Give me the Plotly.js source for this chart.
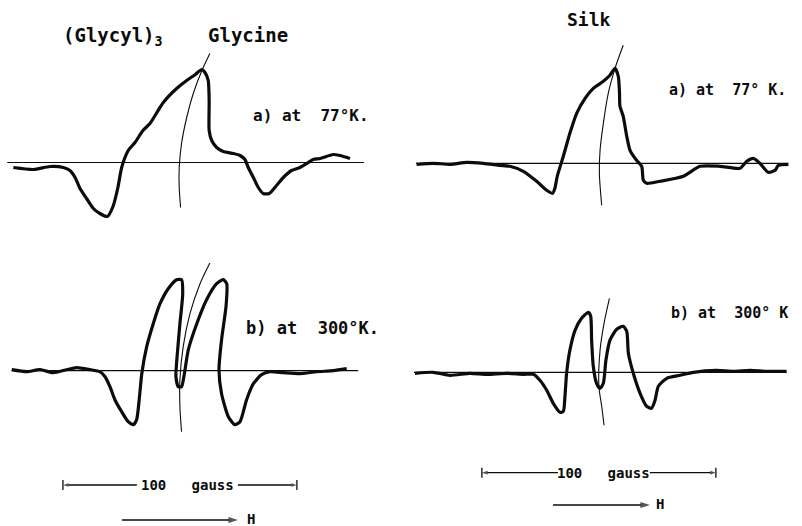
<!DOCTYPE html>
<html><head><meta charset="utf-8">
<script src="https://cdn.plot.ly/plotly-3.0.1.min.js"></script>
<style>html,body{margin:0;padding:0;background:#fff}#c{width:802px;height:526px}</style>
</head><body><div id="c"></div>
<script>
// x in gauss (field offset within each panel), y in arbitrary derivative-signal units (0 = baseline)
// (a) Glycyl-glycyl-glycine, 77 K
const ltX = [5.7,14.2,21.4,27.1,29.9,32.1,34.2,37.0,39.9,42.7,45.9,48.3,50.4,52.0,54.8,57.7,61.1,64.1,69.8,75.5,79.8,83.5,86.2,87.6,89.0,89.4,89.4,90.5,92.6,95.4,99.7,102.6,104.7,106.1,108.3,110.4,112.5,115.1,118.2,121.1,124.6,128.2,131.1,133.9,136.8,142.4,145.3,149.6];
const ltY = [-5,-7,-4,-5,-8,-15,-26,-36,-46,-51,-54,-44,-25,-5,12,20,32,39,60,74,82,88,93,90,82,62,32,22,15,11,9,7,3,-5,-15,-25,-31,-31,-23,-15,-8,-5,-1,3,4,8,7,4];
const ltMarkX = [89.7,86.3,82.6,79.8,77.6,76.6,76.6,77.2];
const ltMarkY = [109,92,69,45,19,-5,-25,-45];
const ltBaseX = [3.1,155.6];
// (a) Silk, 77 K
const rtX = [7.1,14.2,21.4,28.5,35.6,42.7,47.0,52.7,58.4,62.7,65.2,66.2,67.2,69.8,72.6,75.5,79.1,82.6,86.9,89.7,91.9,93.3,93.8,94.0,95.4,96.9,98.3,101.1,103.3,104.0,105.4,111.1,121.1,128.2,136.8,145.3,148.2,151.0,153.8,157.4,160.3,161.7,166.0];
const rtY = [-1,0,-1,1,0,-2,-3,-8,-18,-27,-30,-25,-13,7,30,50,65,75,82,88,95,87,71,57,47,27,13,3,-3,-17,-20,-18,-13,-3,-3,-5,2,5,0,-9,-7,-2,-1];
const rtMarkX = [95.4,91.9,89.0,86.9,85.5,85.2,86.2];
const rtMarkY = [118,95,70,40,13,-10,-42];
const rtBaseX = [6.8,165.8];
// (b) Glycyl-glycyl-glycine, 300 K
const lbX = [5.0,11.4,17.1,22.8,28.5,32.8,38.5,42.7,44.9,47.0,49.1,52.0,54.8,57.0,58.4,59.5,60.6,62.7,65.5,68.4,71.9,75.5,77.6,78.1,76.9,75.8,75.2,76.2,77.6,78.8,80.5,84.1,88.3,92.6,95.4,96.9,96.6,94.7,93.6,94.7,97.6,100.4,102.6,105.4,108.3,111.8,115.4,121.1,128.2,135.3,142.5,148.2];
const lbY = [1,-1,1,-2,1,3,1,-1,-6,-16,-29,-41,-51,-54,-49,-29,-3,24,47,67,82,91,91,77,47,17,-6,-16,-16,-3,21,47,71,87,91,87,64,31,1,-23,-46,-54,-51,-29,-13,-4,-1,-2,-3,-1,0,2];
const lbMarkX = [90.2,85.5,81.2,78.3,76.9,76.9,77.6];
const lbMarkY = [110,87,57,24,-9,-36,-61];
const lbBaseX = [5.0,153.1];
// (b) Silk, 300 K
const rbX = [6.4,14.2,21.4,29.9,37.0,45.6,52.7,57.0,59.8,62.7,65.5,68.4,69.8,70.5,71.2,72.6,74.8,77.6,80.5,81.5,81.9,82.6,84.0,85.5,86.9,88.0,89.7,92.6,95.4,96.9,97.6,99.7,102.6,105.4,107.5,109.0,110.4,114.0,119.7,125.4,135.3,142.5,149.6,156.7,165.2];
const rbY = [-1,0,-3,-1,-2,-1,-2,-2,-8,-18,-31,-40,-39,-24,-1,22,42,54,60,56,32,6,-11,-16,-11,12,32,43,46,41,19,-1,-21,-34,-36,-28,-14,-6,-3,0,2,1,2,1,1];
const rbMarkX = [89.5,87.2,85.5,85.0,86.2,87.2];
const rbMarkY = [74,49,22,-14,-34,-53];
const rbBaseX = [6.0,165.2];

const scaleGauss = 100;          // length of the field scale bar
const scaleLabel = '100\u00a0\u00a0\u00a0gauss';
const fieldLabel = 'H';
const titles = ['(Glycyl)<sub>3</sub>', 'Glycine', 'Silk'];
const tempLabels = ['a)\u00a0at\u00a0\u00a077°K.', 'a)\u00a0at\u00a0\u00a077°\u00a0K.', 'b)\u00a0at\u00a0\u00a0300°K.', 'b)\u00a0at\u00a0\u00a0300°\u00a0K'];

const INK = '#0c0c0c';
const thick = {color: INK, width: 3.2, shape: 'spline', smoothing: 0.6};
const thin = {color: INK, width: 1.1, shape: 'spline', smoothing: 0.8};
const base = {color: INK, width: 1.2};

function panel(xs, ys, mx, my, bx, ax) {
  const xa = 'x' + (ax === 1 ? '' : ax), ya = 'y' + (ax === 1 ? '' : ax);
  return [
    {x: bx, y: [0, 0], mode: 'lines', line: base, xaxis: xa, yaxis: ya, hoverinfo: 'skip'},
    {x: mx, y: my, mode: 'lines', line: thin, xaxis: xa, yaxis: ya, hoverinfo: 'skip'},
    {x: xs, y: ys, mode: 'lines', line: thick, xaxis: xa, yaxis: ya, hoverinfo: 'skip'}
  ];
}

// scale bars (bottom panels)
const barL = {x0: 26.9, y: -114.3, gap: [58.5, 101.7], ax: 3};
const barR = {x0: 35.0, y: -100.4, gap: [67.5, 106.8], ax: 4};
const arrowL = {tail: 52.1, head: 101.7, y: -149.3, h: 107.2, ax: 3};
const arrowR = {tail: 65.4, head: 106.8, y: -132.7, h: 111.0, ax: 4};

function tickTrace(b) {
  const x1 = b.x0 + scaleGauss;
  return {x: [b.x0, b.x0, null, x1, x1], y: [b.y - 5, b.y + 5, null, b.y - 5, b.y + 5],
    mode: 'lines', line: {color: INK, width: 1.3}, xaxis: 'x' + b.ax, yaxis: 'y' + b.ax, hoverinfo: 'skip'};
}
function arrowTrace(ax, xTail, xHead, y, size, w) {
  return {x: [xTail, xHead], y: [y, y], mode: 'lines+markers', xaxis: 'x' + ax, yaxis: 'y' + ax,
    line: {color: INK, width: w}, hoverinfo: 'skip',
    marker: {symbol: ['circle', 'arrow'], size: [0, size], angleref: 'previous', color: INK, line: {width: 0}}};
}

const data = [].concat(
  panel(ltX, ltY, ltMarkX, ltMarkY, ltBaseX, 1),
  panel(rtX, rtY, rtMarkX, rtMarkY, rtBaseX, 2),
  panel(lbX, lbY, lbMarkX, lbMarkY, lbBaseX, 3),
  panel(rbX, rbY, rbMarkX, rbMarkY, rbBaseX, 4),
  [tickTrace(barL), tickTrace(barR)],
  [barL, barR].flatMap(b => [arrowTrace(b.ax, b.gap[0], b.x0, b.y, 6, 1.3), arrowTrace(b.ax, b.gap[1], b.x0 + scaleGauss, b.y, 6, 1.3)]),
  [arrowL, arrowR].map(a => arrowTrace(a.ax, a.tail, a.head, a.y, 10, 1.6))
);

const FONT = {family: 'DejaVu Sans Mono, monospace', color: INK, weight: 'bold'};
function P(px, py) { return {x: px / 802, y: 1 - py / 526}; }
function txt(text, px, py, size, anchor) {
  const p = P(px, py);
  return {text: text, x: p.x, y: p.y, xref: 'paper', yref: 'paper', showarrow: false,
    xanchor: anchor || 'left', yanchor: 'middle', font: Object.assign({size: size}, FONT)};
}
function barAnn(b) {
  return {text: scaleLabel, x: (b.gap[0] + b.gap[1]) / 2, y: b.y, xref: 'x' + b.ax, yref: 'y' + b.ax,
    showarrow: false, xanchor: 'center', yanchor: 'middle', font: Object.assign({size: 14}, FONT)};
}
function fieldAnn(a) {
  return {text: fieldLabel, x: a.h, y: a.y + 1.5, xref: 'x' + a.ax, yref: 'y' + a.ax, showarrow: false,
    xanchor: 'center', yanchor: 'middle', font: Object.assign({size: 14}, FONT)};
}

const annotations = [
  txt(titles[0], 61, 37, 19),
  txt(titles[1], 206, 35, 19),
  txt(titles[2], 565, 20, 18),
  txt(tempLabels[0], 251, 115, 16),
  txt(tempLabels[1], 667, 90, 15),
  txt(tempLabels[2], 244, 328, 17),
  txt(tempLabels[3], 669, 313, 15),
  barAnn(barL), barAnn(barR), fieldAnn(arrowL), fieldAnn(arrowR)
];

function axis(dom, rng, anchor) {
  return {domain: dom, range: rng, visible: false, fixedrange: true, anchor: anchor, showgrid: false, zeroline: false};
}

const layout = {
  width: 802, height: 526, margin: {l: 0, r: 0, t: 0, b: 0},
  paper_bgcolor: '#ffffff', plot_bgcolor: 'rgba(0,0,0,0)', showlegend: false,
  xaxis: axis([0, 0.5], [0, 171.4], 'y'),
  yaxis: axis([0.5, 1], [-100.5, 162.5], 'x'),
  xaxis2: axis([0.5, 1], [0.43, 171.8], 'y2'),
  yaxis2: axis([0.5, 1], [-99.7, 163.3], 'x2'),
  xaxis3: axis([0, 0.5], [0, 171.4], 'y3'),
  yaxis3: axis([0, 0.5], [-155.3, 107.7], 'x3'),
  xaxis4: axis([0.5, 1], [0.43, 171.8], 'y4'),
  yaxis4: axis([0, 0.5], [-153.7, 109.3], 'x4'),
  annotations: annotations
};

Plotly.newPlot('c', data, layout, {staticPlot: true, displayModeBar: false});
</script></body></html>
